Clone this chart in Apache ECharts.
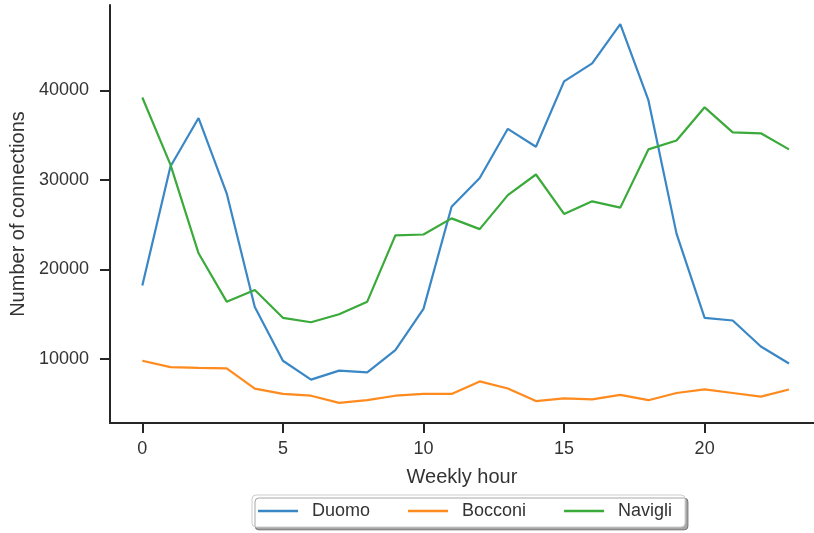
<!DOCTYPE html>
<html>
<head>
<meta charset="utf-8">
<script src="https://cdn.jsdelivr.net/npm/echarts@6/dist/echarts.min.js"></script>
<style>
  html, body { margin: 0; padding: 0; background: #ffffff; }
  #chart { width: 814px; height: 533px; }
</style>
</head>
<body>
<div id="chart"></div>
<script>
// Hourly connection counts for three Milan areas
const hours = [0, 1, 2, 3, 4, 5, 6, 7, 8, 9, 10, 11, 12, 13, 14, 15, 16, 17, 18, 19, 20, 21, 22, 23];
const duomo = [18200, 31500, 36900, 28500, 15800, 9800, 7700, 8700, 8500, 11000, 15600, 27000,
               30200, 35700, 33700, 41000, 43000, 47400, 38900, 24000, 14600, 14300, 11400, 9500];
const bocconi = [9800, 9100, 9000, 8950, 6700, 6100, 5900, 5100, 5400, 5900, 6100, 6100,
                 7500, 6700, 5300, 5600, 5500, 6000, 5400, 6200, 6600, 6200, 5800, 6600];
const navigli = [39200, 31700, 21800, 16400, 17700, 14600, 14100, 15000, 16400, 23800, 23900, 25700,
                 24500, 28300, 30600, 26200, 27600, 26900, 33400, 34400, 38100, 35300, 35200, 33400];
const xTicks = [0, 5, 10, 15, 20];
const yTicks = [10000, 20000, 30000, 40000];

const seriesNames = ['Duomo', 'Bocconi', 'Navigli'];
const seriesColors = ['#3a87c6', '#ff8a1e', '#3aaa3a'];
const seriesValues = [duomo, bocconi, navigli];

const FONT = '"Liberation Sans", Arial, Helvetica, sans-serif';
const INK = '#262626';
const TEXT = '#333333';

const chart = echarts.init(document.getElementById('chart'), null, { renderer: 'canvas' });

chart.setOption({
  animation: false,
  backgroundColor: '#ffffff',
  textStyle: { fontFamily: FONT },
  grid: { left: 110, right: 0, top: 5, bottom: 110, containLabel: false, outerBoundsMode: 'none' },
  xAxis: {
    type: 'value',
    min: -1.15,
    max: 23.89,
    name: 'Weekly hour',
    nameLocation: 'middle',
    nameGap: 44,
    nameTextStyle: { fontSize: 20, color: TEXT, fontFamily: FONT },
    axisLine: { show: true, onZero: false, lineStyle: { color: INK, width: 2 } },
    axisTick: { show: true, length: 10, inside: false, customValues: xTicks, lineStyle: { color: INK, width: 2 } },
    axisLabel: { customValues: xTicks, fontSize: 18, color: TEXT, margin: 17, fontFamily: FONT },
    splitLine: { show: false }
  },
  yAxis: {
    type: 'value',
    min: 2854,
    max: 49524,
    name: 'Number of connections',
    nameLocation: 'middle',
    nameGap: 80,
    nameTextStyle: { fontSize: 20, color: TEXT, fontFamily: FONT },
    axisLine: { show: true, onZero: false, lineStyle: { color: INK, width: 2 } },
    axisTick: { show: true, length: 10, inside: false, customValues: yTicks, lineStyle: { color: INK, width: 2 } },
    axisLabel: {
      customValues: yTicks, fontSize: 18, color: TEXT, margin: 21, fontFamily: FONT,
      formatter: (v) => String(v)
    },
    splitLine: { show: false }
  },
  legend: {
    left: 252,
    top: 495,
    orient: 'horizontal',
    icon: 'rect',
    itemWidth: 40,
    itemHeight: 2.5,
    itemGap: 38,
    padding: [7, 13, 7, 6],
    backgroundColor: '#ffffff',
    borderColor: '#cccccc',
    borderWidth: 1,
    borderRadius: 4,
    shadowColor: 'rgba(0,0,0,0.35)',
    shadowBlur: 0,
    shadowOffsetX: 3,
    shadowOffsetY: 3,
    textStyle: { fontSize: 18, color: TEXT, fontFamily: FONT, padding: [0, 0, 0, 9] },
    data: seriesNames
  },
  series: seriesNames.map((name, i) => ({
    name: name,
    type: 'line',
    data: hours.map((h, j) => [h, seriesValues[i][j]]),
    showSymbol: false,
    symbol: 'none',
    color: seriesColors[i],
    lineStyle: { width: 2.2, color: seriesColors[i] },
    itemStyle: { color: seriesColors[i] }
  }))
});
</script>
</body>
</html>
